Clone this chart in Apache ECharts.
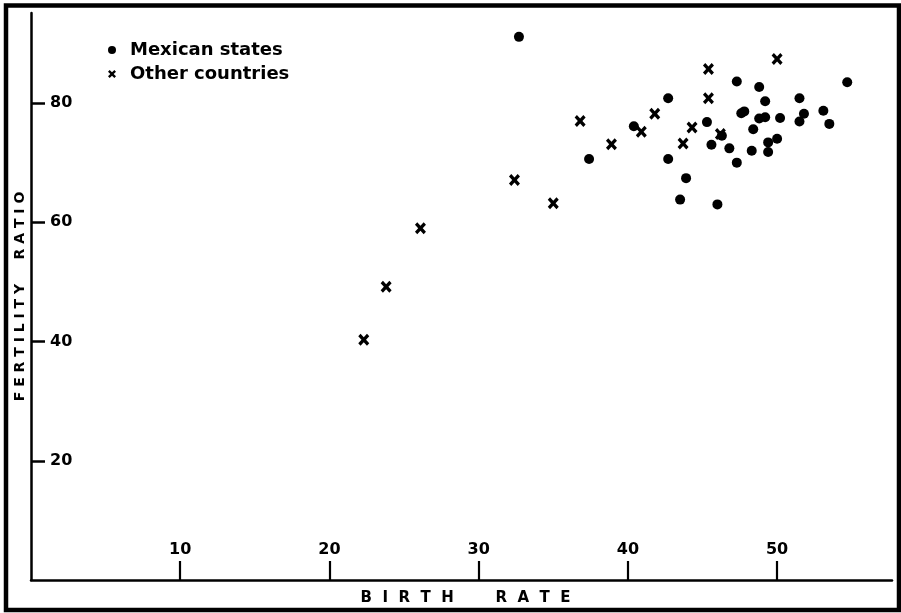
<!DOCTYPE html>
<html>
<head>
<meta charset="utf-8">
<title>Fertility ratio vs birth rate</title>
<script src="https://cdn.jsdelivr.net/npm/echarts@6/dist/echarts.min.js"></script>
<style>
  html, body {
    margin: 0;
    padding: 0;
    background: #ffffff;
  }
  #chart {
    width: 901px;
    height: 613px;
  }
</style>
</head>
<body>
<div id="chart"></div>
<script>
// birth rate / fertility ratio pairs
const mexicoBirth = [32.7, 37.4, 40.4, 42.7, 42.7, 43.9, 43.5, 46.0, 45.3, 45.6, 46.3, 46.8, 47.3, 47.3, 47.8, 47.6,
  48.8, 49.2, 48.4, 48.8, 49.2, 48.3, 49.4, 49.4, 50.0, 50.2, 51.5, 51.5, 51.8, 53.1, 53.5, 54.7]
const mexicoFert = [91.1, 70.6, 76.1, 80.8, 70.6, 67.4, 63.8, 63.0, 76.8, 73.0, 74.5, 72.4, 70.0, 83.6, 78.6, 78.3,
  82.7, 80.3, 75.6, 77.4, 77.6, 72.0, 71.8, 73.4, 74.0, 77.5, 80.8, 76.9, 78.2, 78.7, 76.5, 83.5]
const otherBirth = [22.3, 23.8, 26.1, 32.4, 35.0, 36.8, 38.9, 40.9, 41.8, 43.7, 44.3, 45.4, 45.4, 46.2, 50.0]
const otherFert = [40.3, 49.2, 59.0, 67.1, 63.2, 77.0, 73.1, 75.2, 78.2, 73.2, 75.9, 85.7, 80.8, 74.8, 87.4]
const xTicks = [10, 20, 30, 40, 50]
const yTicks = [20, 40, 60, 80]
const seriesNames = ['Mexican states', 'Other countries']

const ink = '#000000'
const font = '"DejaVu Sans", sans-serif'
const crossPath = 'path://M0,2.5 L2.5,0 L6,3.5 L9.5,0 L12,2.5 L8.5,6 L12,9.5 L9.5,12 L6,8.5 L2.5,12 L0,9.5 L3.5,6 Z'

const pairs = (xs, ys) => xs.map((x, i) => [x, ys[i]])

const myChart = echarts.init(document.getElementById('chart'), null, { renderer: 'canvas' })

const options = {
  animation: false,
  backgroundColor: '#ffffff',
  grid: {
    left: 31,
    right: 9,
    top: 13,
    bottom: 33
  },
  legend: {
    orient: 'vertical',
    left: 103,
    top: 36,
    itemWidth: 26,
    itemHeight: 8,
    itemGap: 6,
    selectedMode: false,
    data: [
      { name: seriesNames[0], icon: 'circle' },
      { name: seriesNames[1], icon: crossPath }
    ],
    textStyle: {
      color: ink,
      fontFamily: font,
      fontWeight: 'bold',
      fontSize: 18
    }
  },
  xAxis: {
    type: 'value',
    min: 0,
    max: 57.7,
    name: 'B  I  R  T  H        R  A  T  E',
    nameLocation: 'middle',
    nameGap: 11,
    nameMoveOverlap: false,
    nameTextStyle: {
      color: ink,
      fontFamily: font,
      fontWeight: 'bold',
      fontSize: 15,
      padding: [0, 0, 0, 8]
    },
    axisLine: {
      lineStyle: { color: ink, width: 2.5 }
    },
    axisTick: {
      inside: true,
      length: 19,
      customValues: xTicks,
      lineStyle: { color: ink, width: 2.2 }
    },
    axisLabel: {
      inside: true,
      margin: 22,
      customValues: xTicks,
      color: ink,
      fontFamily: font,
      fontWeight: 'bold',
      fontSize: 16
    },
    splitLine: { show: false }
  },
  yAxis: {
    type: 'value',
    min: 0,
    max: 95.1,
    name: 'F E R T I L I T Y     R A T I O',
    nameLocation: 'middle',
    nameGap: 4,
    nameMoveOverlap: false,
    nameTextStyle: {
      color: ink,
      fontFamily: font,
      fontWeight: 'bold',
      fontSize: 14
    },
    axisLine: {
      show: true,
      lineStyle: { color: ink, width: 2.5 }
    },
    axisTick: {
      show: true,
      inside: true,
      length: 14,
      customValues: yTicks,
      lineStyle: { color: ink, width: 2.5 }
    },
    axisLabel: {
      inside: true,
      margin: 19,
      customValues: yTicks,
      color: ink,
      fontFamily: font,
      fontWeight: 'bold',
      fontSize: 16
    },
    splitLine: { show: false }
  },
  series: [
    {
      name: seriesNames[0],
      type: 'scatter',
      symbol: 'circle',
      symbolSize: 10,
      itemStyle: { color: ink, opacity: 1 },
      data: pairs(mexicoBirth, mexicoFert)
    },
    {
      name: seriesNames[1],
      type: 'scatter',
      symbol: crossPath,
      symbolSize: [11, 12],
      symbolKeepAspect: true,
      itemStyle: { color: ink, opacity: 1 },
      data: pairs(otherBirth, otherFert)
    }
  ],
  // scanned-page frame round the figure
  graphic: [
    {
      type: 'rect',
      silent: true,
      shape: { x: 6, y: 5.5, width: 893, height: 604.5 },
      style: { fill: 'none', stroke: ink, lineWidth: 4.5 }
    }
  ]
}
myChart.setOption(options)
</script>
</body>
</html>
